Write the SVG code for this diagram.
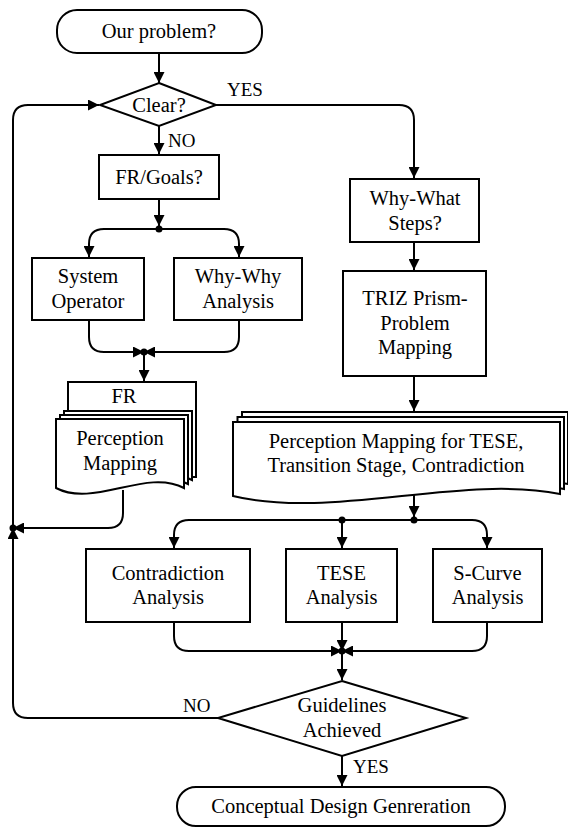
<svg xmlns="http://www.w3.org/2000/svg" width="568" height="828" viewBox="0 0 568 828" font-family="Liberation Serif, Times New Roman, serif">
<style>
  .n { fill: #fff; stroke: #000; stroke-width: 2; }
  .c { fill: none; stroke: #000; stroke-width: 2; }
  .a { marker-end: url(#ah); }
  .t { font-size: 20.5px; fill: #000; text-anchor: middle; }
  .l { font-size: 19px; fill: #000; }
  .d { fill: #000; }
</style>
<defs>
  <marker id="ah" markerUnits="userSpaceOnUse" markerWidth="11" markerHeight="11" viewBox="0 0 10 10" refX="10" refY="5" orient="auto">
    <path d="M0,0 L10,5 L0,10 z" fill="#000"/>
  </marker>
</defs>
<rect width="568" height="828" fill="#fff"/>

<g id="connectors">
  <path class="c a" d="M159,53 V83"/>
  <path class="c a" d="M216,105 H399 Q414,105 414,120 V178"/>
  <path class="c a" d="M159,126 V154"/>
  <path class="c a" d="M159,199 V226"/>
  <path class="c a" d="M159,229 H104 Q89,229 89,244 V257"/>
  <path class="c a" d="M159,229 H224 Q239,229 239,244 V257"/>
  <path class="c a" d="M89,320 V337 Q89,352 104,352 H144"/>
  <path class="c a" d="M239,320 V337 Q239,352 224,352 H144"/>
  <path class="c a" d="M144,352 V381"/>
  <path class="c a" d="M123,490 V513 Q123,528 108,528 H13"/>
  <path class="c a" d="M219,718 H28 Q13,718 13,703 V528"/>
  <path class="c a" d="M13,528 V120 Q13,105 28,105 H99"/>
  <path class="c a" d="M414,242 V270"/>
  <path class="c a" d="M414,376 V411"/>
  <path class="c a" d="M414,488 V517"/>
  <path class="c a" d="M414,520 H189 Q174,520 174,535 V548"/>
  <path class="c a" d="M342,520 V548"/>
  <path class="c a" d="M414,520 H472 Q487,520 487,535 V548"/>
  <path class="c a" d="M174,622 V636 Q174,651 189,651 H342"/>
  <path class="c a" d="M487,622 V636 Q487,651 472,651 H342"/>
  <path class="c a" d="M342,622 V651"/>
  <path class="c a" d="M342,651 V680"/>
  <path class="c a" d="M342,756 V786"/>
  <circle class="d" cx="159" cy="229" r="3.5"/>
  <circle class="d" cx="144" cy="352" r="3.5"/>
  <circle class="d" cx="13" cy="528" r="3.5"/>
  <circle class="d" cx="414" cy="520" r="3.5"/>
  <circle class="d" cx="342" cy="520" r="3.5"/>
  <circle class="d" cx="342" cy="651" r="3.5"/>
  <text class="l" x="227" y="96">YES</text>
  <text class="l" x="168" y="147">NO</text>
  <text class="l" x="183" y="712">NO</text>
  <text class="l" x="353" y="773">YES</text>
</g>

<g id="start">
  <rect class="n" x="57" y="10" width="205" height="43" rx="20"/>
  <text class="t" x="159" y="38">Our problem?</text>
</g>

<g id="clear">
  <polygon class="n" points="159,83 216,105 159,126 100,105"/>
  <text class="t" x="159" y="112">Clear?</text>
</g>

<g id="goals">
  <rect class="n" x="99" y="155" width="120" height="44"/>
  <text class="t" x="159" y="184">FR/Goals?</text>
</g>

<g id="sysop">
  <rect class="n" x="32" y="258" width="112" height="62"/>
  <text class="t" x="88" y="283">System</text>
  <text class="t" x="88" y="308">Operator</text>
</g>

<g id="whywhy">
  <rect class="n" x="174" y="258" width="128" height="62"/>
  <text class="t" x="238" y="283">Why-Why</text>
  <text class="t" x="238" y="308">Analysis</text>
</g>

<g id="perception">
  <rect class="n" x="68" y="382" width="128" height="95"/>
  <text class="t" x="124" y="403">FR</text>
  <path class="n" d="M64,411 H192 V480 C154,460 102,500 64,480 Z"/>
  <path class="n" d="M60,415 H188 V484 C150,464 98,504 60,484 Z"/>
  <path class="n" d="M56,419 H184 V488 C146,468 94,508 56,488 Z"/>
  <text class="t" x="120" y="445">Perception</text>
  <text class="t" x="120" y="470">Mapping</text>
</g>

<g id="whywhat">
  <rect class="n" x="350" y="179" width="129" height="63"/>
  <text class="t" x="415" y="205">Why-What</text>
  <text class="t" x="415" y="230">Steps?</text>
</g>

<g id="triz">
  <rect class="n" x="343" y="271" width="143" height="105"/>
  <text class="t" x="415" y="305">TRIZ Prism-</text>
  <text class="t" x="415" y="330">Problem</text>
  <text class="t" x="415" y="354">Mapping</text>
</g>

<g id="mapping">
  <path class="n" d="M242,412 H568 V484 C470,464 340,510 242,490 Z"/>
  <path class="n" d="M237.5,417 H564 V489 C466,469 336,515 237.5,495 Z"/>
  <path class="n" d="M233,422 H560 V494 C462,474 331,520 233,496 Z"/>
  <text class="t" x="396" y="448">Perception Mapping for TESE,</text>
  <text class="t" x="396" y="472">Transition Stage, Contradiction</text>
</g>

<g id="contradiction">
  <rect class="n" x="86" y="549" width="164" height="73"/>
  <text class="t" x="168" y="580">Contradiction</text>
  <text class="t" x="168" y="604">Analysis</text>
</g>

<g id="tese">
  <rect class="n" x="286" y="549" width="111" height="73"/>
  <text class="t" x="341.5" y="580">TESE</text>
  <text class="t" x="341.5" y="604">Analysis</text>
</g>

<g id="scurve">
  <rect class="n" x="433" y="549" width="109" height="73"/>
  <text class="t" x="487.5" y="580">S-Curve</text>
  <text class="t" x="487.5" y="604">Analysis</text>
</g>

<g id="guidelines">
  <polygon class="n" points="342,681 466,718 342,756 218,718"/>
  <text class="t" x="342" y="712">Guidelines</text>
  <text class="t" x="342" y="737">Achieved</text>
</g>

<g id="end">
  <rect class="n" x="177" y="787" width="328" height="39" rx="19"/>
  <text class="t" x="341" y="813">Conceptual Design Genreration</text>
</g>
</svg>
